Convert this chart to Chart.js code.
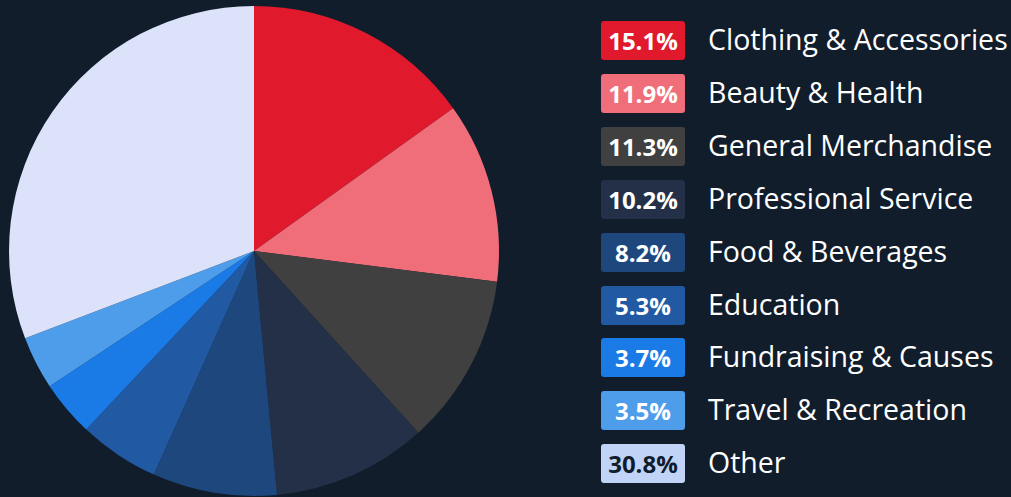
<!DOCTYPE html>
<html>
<head>
<meta charset="utf-8">
<script src="https://cdn.jsdelivr.net/npm/chart.js@4"></script>
<style>
html,body{margin:0;padding:0;background:#111d2b;width:1011px;height:497px;overflow:hidden;font-family:"Open Sans",sans-serif;}
#wrap{position:absolute;left:0;top:0;width:508px;height:497px;}
#legend{position:absolute;left:601px;top:21px;}
.row{position:absolute;left:0;height:39px;white-space:nowrap;}
.badge{position:absolute;left:0;top:0;width:84px;height:39px;border-radius:3px;color:#fff;font-weight:700;font-size:24px;line-height:39px;text-align:center;}
.lab{position:absolute;left:107px;top:-1px;height:39px;line-height:39px;color:#fff;font-size:28.5px;}
</style>
</head>
<body>
<div id="wrap"><canvas id="c"></canvas></div>
<div id="legend"></div>
<script>
const categories = ["Clothing & Accessories","Beauty & Health","General Merchandise","Professional Service","Food & Beverages","Education","Fundraising & Causes","Travel & Recreation","Other"];
const shares = [15.1, 11.9, 11.3, 10.2, 8.2, 5.3, 3.7, 3.5, 30.8];
const sliceColors = ["#e0192c","#f06e7a","#404040","#243047","#1e477d","#2159a3","#1a7ae6","#4e9deb","#dbe2f9"];
const badgeColors = ["#e0192c","#f06e7a","#404040","#243047","#1e477d","#2159a3","#1a7ae6","#4e9deb","#c2d3f8"];
const badgeText = ["#fff","#fff","#fff","#fff","#fff","#fff","#fff","#fff","#0f1c2b"];

new Chart(document.getElementById('c'), {
  type: 'pie',
  data: {
    labels: categories,
    datasets: [{ data: shares, backgroundColor: sliceColors, borderWidth: 0 }]
  },
  options: {
    responsive: true,
    maintainAspectRatio: false,
    animation: false,
    layout: { padding: { left: 9, right: 9, top: 6, bottom: 1 } },
    plugins: { legend: { display: false }, tooltip: { enabled: false } }
  }
});

const lg = document.getElementById('legend');
categories.forEach((c, i) => {
  const r = document.createElement('div');
  r.className = 'row';
  r.style.top = (i * 52.9) + 'px';
  const b = document.createElement('div');
  b.className = 'badge';
  b.style.background = badgeColors[i];
  b.style.color = badgeText[i];
  b.textContent = shares[i].toFixed(1) + '%';
  const l = document.createElement('div');
  l.className = 'lab';
  l.textContent = c;
  r.appendChild(b); r.appendChild(l);
  lg.appendChild(r);
});
</script>
</body>
</html>
